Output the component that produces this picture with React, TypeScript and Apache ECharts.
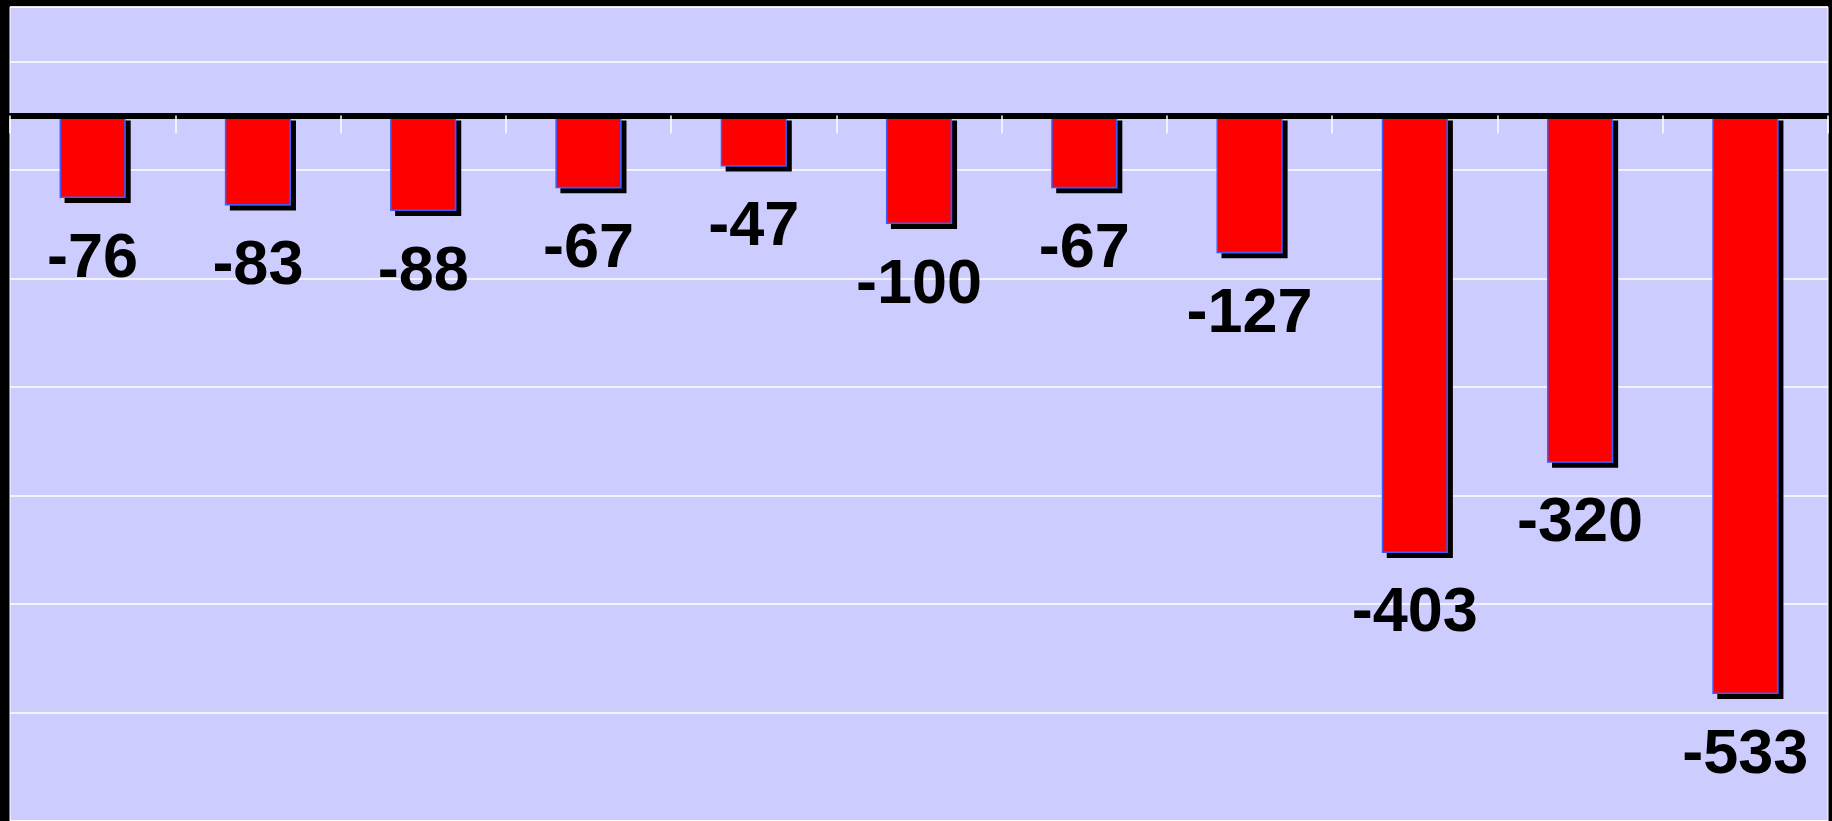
import React, { useEffect, useRef } from "react";
import * as echarts from "echarts";

const categories = ["1", "2", "3", "4", "5", "6", "7", "8", "9", "10", "11"];
const values = [-76, -83, -88, -67, -47, -100, -67, -127, -403, -320, -533];

export default function App() {
  const ref = useRef<HTMLDivElement>(null);
  useEffect(() => {
    const chart = echarts.init(ref.current!, null, { renderer: "svg" });
    chart.setOption({
      animation: false,
      backgroundColor: "#000000",
      grid: {
        show: true,
        left: 10,
        top: 7,
        right: 4,
        bottom: 0,
        backgroundColor: "#CCCCFF",
        borderColor: "#FFFFFF",
        borderWidth: 1,
      },
      xAxis: {
        type: "category",
        data: categories,
        z: 10,
        axisLine: { show: true, onZero: true, lineStyle: { color: "#000000", width: 6 } },
        axisTick: { show: true, length: 18, lineStyle: { color: "#FFFFFF", width: 1.5 } },
        axisLabel: { show: false },
        splitLine: { show: false },
      },
      yAxis: [
        {
          type: "value",
          min: -650,
          max: 100,
          axisLine: { show: false },
          axisTick: { show: false },
          axisLabel: { show: false },
          splitLine: { show: false },
        },
        {
          type: "value",
          position: "left",
          min: 0,
          max: 750,
          interval: 100,
          axisLine: { show: false },
          axisTick: { show: false },
          axisLabel: { show: false },
          splitLine: { show: true, lineStyle: { color: "#FFFFFF", width: 1.5 } },
        },
      ],
      series: [
        {
          type: "bar",
          yAxisIndex: 0,
          data: values,
          barWidth: "40%",
          itemStyle: {
            color: "#FF0000",
            borderColor: "#3A5CFF",
            borderWidth: 1.5,
            shadowColor: "#000000",
            shadowBlur: 0,
            shadowOffsetX: 5,
            shadowOffsetY: 5,
          },
          label: {
            show: true,
            position: "bottom",
            distance: 25,
            color: "#000000",
            fontFamily: "Liberation Sans, Arial, sans-serif",
            fontWeight: "bold",
            fontSize: 63,
            lineHeight: 63,
          },
        },
      ],
    });
    return () => chart.dispose();
  }, []);
  return (
    <div
      ref={ref}
      style={{ position: "fixed", left: 0, top: 0, width: 1832, height: 821 }}
    />
  );
}
